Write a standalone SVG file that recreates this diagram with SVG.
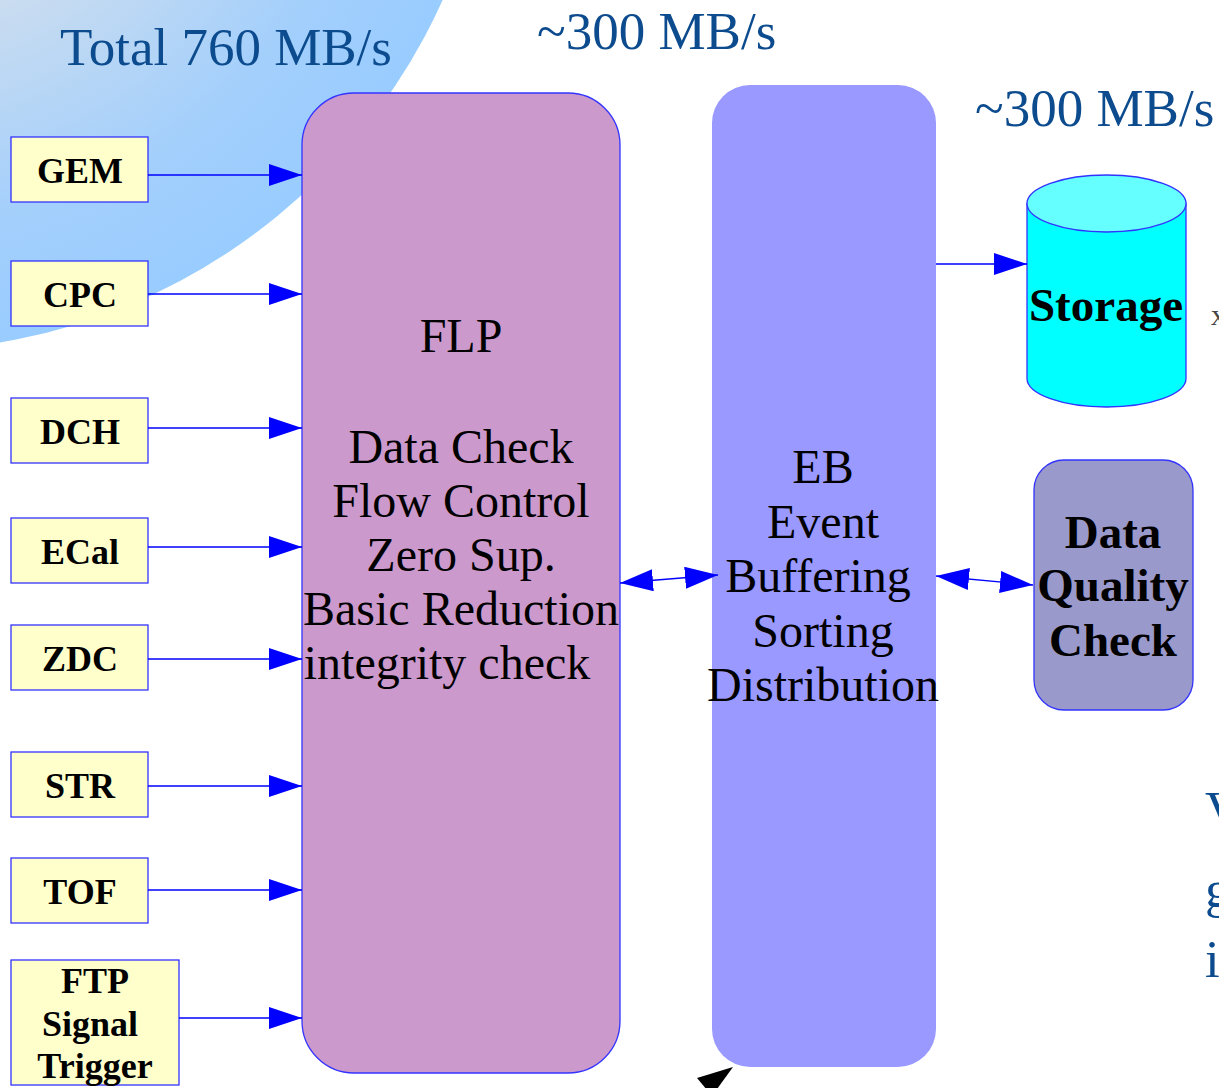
<svg xmlns="http://www.w3.org/2000/svg" width="1219" height="1088" viewBox="0 0 1219 1088">
  <defs>
    <radialGradient id="bgGlow" gradientUnits="userSpaceOnUse" cx="-100" cy="-244" r="595">
      <stop offset="0" stop-color="#d6dde6"/>
      <stop offset="0.45" stop-color="#c9dcf0"/>
      <stop offset="0.8" stop-color="#a3cffc"/>
      <stop offset="1" stop-color="#99ccff"/>
    </radialGradient>
    <marker id="head" viewBox="0 0 33 22" refX="33" refY="11" markerWidth="33" markerHeight="22" markerUnits="userSpaceOnUse" orient="auto">
      <path d="M0,0 L33,11 L0,22 Z" fill="#0000ff"/>
    </marker>
    <marker id="tail" viewBox="0 0 33 22" refX="0" refY="11" markerWidth="33" markerHeight="22" markerUnits="userSpaceOnUse" orient="auto">
      <path d="M33,0 L0,11 L33,22 Z" fill="#0000ff"/>
    </marker>
  </defs>
  <style>
    .rate { font-family: "Liberation Serif", "Times New Roman", serif; font-size: 53px; fill: #0c4b8e; }
    .src rect { fill: #ffffcc; stroke: #3333ff; stroke-width: 1.3; }
    .src text { font-family: "Liberation Serif", "Times New Roman", serif; font-size: 36px; font-weight: bold; fill: #000; text-anchor: middle; }
    .big { font-family: "Liberation Serif", "Times New Roman", serif; font-size: 48px; fill: #000; text-anchor: middle; }
    .bold { font-family: "Liberation Serif", "Times New Roman", serif; font-size: 47px; font-weight: bold; fill: #000; text-anchor: middle; }
    .conn line { stroke: #0000ff; stroke-width: 1.3; fill: none; }
  </style>

  <rect width="1219" height="1088" fill="#ffffff"/>

  <!-- backdrop swirl in the upper-left corner -->
  <circle cx="-100" cy="-244" r="595" fill="url(#bgGlow)"/>

  <!-- throughput labels -->
  <text class="rate" x="60" y="65">Total 760 MB/s</text>
  <text class="rate" x="537" y="49">~300 MB/s</text>
  <text class="rate" x="975" y="126">~300 MB/s</text>

  <!-- text running off the right edge -->
  <text x="1211" y="325" font-family="Liberation Serif, serif" font-size="30" fill="#444">x</text>
  <text class="rate" x="1205" y="828" font-size="47">V</text>
  <text class="rate" x="1205" y="907" font-size="47">g</text>
  <text class="rate" x="1205" y="977" font-size="47">i</text>

  <!-- detector sources -->
  <g id="gem" class="src"><rect x="11" y="137" width="137" height="65"/><text x="80" y="183">GEM</text></g>
  <g id="cpc" class="src"><rect x="11" y="261" width="137" height="65"/><text x="80" y="307">CPC</text></g>
  <g id="dch" class="src"><rect x="11" y="398" width="137" height="65"/><text x="80" y="444">DCH</text></g>
  <g id="ecal" class="src"><rect x="11" y="518" width="137" height="65"/><text x="80" y="564">ECal</text></g>
  <g id="zdc" class="src"><rect x="11" y="625" width="137" height="65"/><text x="80" y="671">ZDC</text></g>
  <g id="str" class="src"><rect x="11" y="752" width="137" height="65"/><text x="80" y="798">STR</text></g>
  <g id="tof" class="src"><rect x="11" y="858" width="137" height="65"/><text x="80" y="904">TOF</text></g>
  <g id="ftp" class="src">
    <rect x="11" y="960" width="168" height="125"/>
    <text x="95" y="993">FTP</text>
    <text x="90" y="1036">Signal</text>
    <text x="95" y="1078">Trigger</text>
  </g>

  <!-- FLP -->
  <g id="flp">
    <rect x="302" y="93" width="318" height="980" rx="52" ry="52" fill="#cc99cc" stroke="#3333ff" stroke-width="1.3"/>
    <text class="big" x="461" y="352">FLP</text>
    <text class="big" x="461" y="463">Data Check</text>
    <text class="big" x="461" y="517">Flow Control</text>
    <text class="big" x="461" y="571">Zero Sup.</text>
    <text class="big" x="461" y="625">Basic Reduction</text>
    <text class="big" x="447" y="679">integrity check</text>
  </g>

  <!-- Event builder -->
  <g id="eb">
    <rect x="712" y="85" width="224" height="982" rx="38" ry="38" fill="#9999ff"/>
    <text class="big" x="823" y="483">EB</text>
    <text class="big" x="823" y="538">Event</text>
    <text class="big" x="818" y="592">Buffering</text>
    <text class="big" x="823" y="647">Sorting</text>
    <text class="big" x="823" y="701">Distribution</text>
  </g>

  <!-- Storage -->
  <g id="storage">
    <path d="M1027,203.5 L1027,378.5 A79.5,28.5 0 0 0 1186,378.5 L1186,203.5 Z" fill="#00ffff" stroke="#3333ff" stroke-width="1.3"/>
    <ellipse cx="1106.5" cy="203.5" rx="79.5" ry="28.5" fill="#66ffff" stroke="#3333ff" stroke-width="1.3"/>
    <text class="bold" x="1106" y="321">Storage</text>
  </g>

  <!-- Data quality check -->
  <g id="dqc">
    <rect x="1034" y="460" width="159" height="250" rx="30" ry="30" fill="#9999cc" stroke="#3333ff" stroke-width="1.3"/>
    <text class="bold" x="1113" y="548">Data</text>
    <text class="bold" x="1113" y="601">Quality</text>
    <text class="bold" x="1113" y="656">Check</text>
  </g>

  <!-- connectors -->
  <g id="connectors" class="conn">
    <line x1="148" y1="175" x2="302" y2="175" marker-end="url(#head)"/>
    <line x1="148" y1="294" x2="302" y2="294" marker-end="url(#head)"/>
    <line x1="148" y1="428" x2="302" y2="428" marker-end="url(#head)"/>
    <line x1="148" y1="547" x2="302" y2="547" marker-end="url(#head)"/>
    <line x1="148" y1="659" x2="302" y2="659" marker-end="url(#head)"/>
    <line x1="148" y1="786" x2="302" y2="786" marker-end="url(#head)"/>
    <line x1="148" y1="890" x2="302" y2="890" marker-end="url(#head)"/>
    <line x1="179" y1="1018" x2="302" y2="1018" marker-end="url(#head)"/>
    <line x1="620" y1="583" x2="718" y2="575" marker-start="url(#tail)" marker-end="url(#head)"/>
    <line x1="936" y1="576" x2="1033" y2="585" marker-start="url(#tail)" marker-end="url(#head)"/>
    <line x1="936" y1="264" x2="1027" y2="264" marker-end="url(#head)"/>
  </g>

  <!-- stray pointer at the bottom edge -->
  <polygon points="733,1067 697,1078 712,1096" fill="#000"/>
</svg>
